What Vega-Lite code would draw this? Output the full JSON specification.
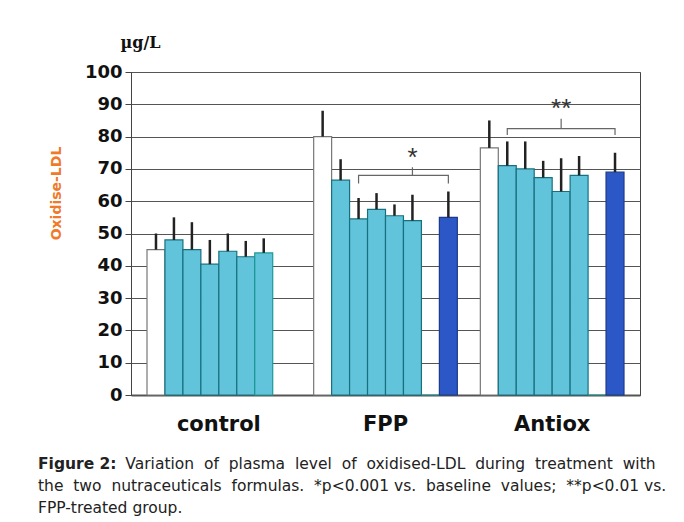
{
  "$schema": "https://vega.github.io/schema/vega-lite/v6.json",
  "width": 509,
  "height": 323,
  "autosize": {"type": "none"},
  "padding": {"left": 131, "top": 72, "right": 44, "bottom": 127},
  "background": "white",
  "config": {
    "view": {"stroke": "#444", "strokeWidth": 1},
    "font": "DejaVu Sans"
  },
  "datasets": {
    "bars": [
      {"group": "control", "series": "s0", "value": 45, "top": 50},
      {"group": "control", "series": "s1", "value": 48, "top": 55},
      {"group": "control", "series": "s2", "value": 45, "top": 53.5},
      {"group": "control", "series": "s3", "value": 40.5, "top": 48},
      {"group": "control", "series": "s4", "value": 44.5, "top": 50},
      {"group": "control", "series": "s5", "value": 42.8, "top": 47.7},
      {"group": "control", "series": "s6", "value": 44, "top": 48.5},
      {"group": "FPP", "series": "s0", "value": 80, "top": 88},
      {"group": "FPP", "series": "s1", "value": 66.5, "top": 73},
      {"group": "FPP", "series": "s2", "value": 54.5, "top": 61},
      {"group": "FPP", "series": "s3", "value": 57.5, "top": 62.5},
      {"group": "FPP", "series": "s4", "value": 55.5, "top": 59},
      {"group": "FPP", "series": "s5", "value": 54, "top": 62},
      {"group": "FPP", "series": "s6", "value": 0, "top": 0},
      {"group": "FPP", "series": "s7", "value": 55, "top": 63},
      {"group": "Antiox", "series": "s0", "value": 76.5, "top": 85},
      {"group": "Antiox", "series": "s1", "value": 71, "top": 78.5},
      {"group": "Antiox", "series": "s2", "value": 70, "top": 78.5},
      {"group": "Antiox", "series": "s3", "value": 67.3, "top": 72.5},
      {"group": "Antiox", "series": "s4", "value": 63, "top": 73.3},
      {"group": "Antiox", "series": "s5", "value": 68, "top": 74},
      {"group": "Antiox", "series": "s6", "value": 0, "top": 0},
      {"group": "Antiox", "series": "s7", "value": 69, "top": 75}
    ],
    "braces": [
      {"brace": "b1", "group": "FPP", "series": "s2", "y": 65.5, "order": 1},
      {"brace": "b1", "group": "FPP", "series": "s2", "y": 68, "order": 2},
      {"brace": "b1", "group": "FPP", "series": "s5", "y": 68, "order": 3},
      {"brace": "b1", "group": "FPP", "series": "s5", "y": 70.5, "order": 4},
      {"brace": "b1", "group": "FPP", "series": "s5", "y": 68, "order": 5},
      {"brace": "b1", "group": "FPP", "series": "s7", "y": 68, "order": 6},
      {"brace": "b1", "group": "FPP", "series": "s7", "y": 65.5, "order": 7},
      {"brace": "b2", "group": "Antiox", "series": "s1", "y": 80.5, "order": 1},
      {"brace": "b2", "group": "Antiox", "series": "s1", "y": 82.5, "order": 2},
      {"brace": "b2", "group": "Antiox", "series": "s4", "y": 82.5, "order": 3},
      {"brace": "b2", "group": "Antiox", "series": "s4", "y": 85.5, "order": 4},
      {"brace": "b2", "group": "Antiox", "series": "s4", "y": 82.5, "order": 5},
      {"brace": "b2", "group": "Antiox", "series": "s7", "y": 82.5, "order": 6},
      {"brace": "b2", "group": "Antiox", "series": "s7", "y": 80.5, "order": 7}
    ],
    "stars": [
      {"group": "FPP", "series": "s5", "y": 73.5, "label": "*"},
      {"group": "Antiox", "series": "s4", "y": 88.5, "label": "**"}
    ]
  },
  "title": {
    "text": "Figure 2:",
    "subtitle": [
      "\u200b\u2003\u2003\u2003\u2003\u2003\u00a0\u00a0Variation \u00a0of \u00a0plasma \u00a0level \u00a0of \u00a0oxidised-LDL \u00a0during \u00a0treatment \u00a0with",
      "the \u00a0two \u00a0nutraceuticals \u00a0formulas. \u00a0*p<0.001 vs. \u00a0baseline \u00a0values; \u00a0**p<0.01 vs.",
      "FPP-treated group."
    ],
    "orient": "bottom",
    "anchor": "start",
    "frame": "group",
    "dx": -93,
    "offset": 23,
    "font": "DejaVu Sans",
    "fontSize": 15.5,
    "fontWeight": "bold",
    "color": "#222",
    "subtitleFont": "DejaVu Sans",
    "subtitleFontSize": 15.5,
    "subtitleColor": "#222",
    "subtitleLineHeight": 22,
    "subtitlePadding": -16
  },
  "encoding": {
    "x": {
      "field": "group",
      "type": "nominal",
      "sort": ["control", "FPP", "Antiox"],
      "scale": {"domain": ["control", "FPP", "Antiox"], "paddingInner": 0.138, "paddingOuter": 0.096},
      "axis": {
        "title": null,
        "labelAngle": 0,
        "labelFont": "DejaVu Sans",
        "labelFontSize": 21,
        "labelFontWeight": "bold",
        "labelColor": "#111",
        "labelPadding": 18,
        "ticks": false,
        "domainColor": "#555",
        "domainWidth": 2
      }
    },
    "xOffset": {
      "field": "series",
      "type": "nominal",
      "scale": {"domain": ["s0", "s1", "s2", "s3", "s4", "s5", "s6", "s7"], "paddingInner": 0, "paddingOuter": 0}
    }
  },
  "layer": [
    {
      "data": {"name": "bars"},
      "mark": {"type": "bar", "strokeWidth": 1.2},
      "encoding": {
        "y": {
          "field": "value",
          "type": "quantitative",
          "scale": {"domain": [0, 100]},
          "axis": {
            "values": [0, 10, 20, 30, 40, 50, 60, 70, 80, 90, 100],
            "title": "µg/L",
            "titleAngle": 0,
            "titleAlign": "left",
            "titleBaseline": "middle",
            "titleX": -11,
            "titleY": -30,
            "titleFont": "DejaVu Serif",
            "titleFontSize": 16,
            "titleFontWeight": "bold",
            "titleColor": "#111",
            "labelFont": "DejaVu Sans",
            "labelFontSize": 18,
            "labelFontWeight": "bold",
            "labelColor": "#111",
            "labelPadding": 3,
            "tickSize": 6,
            "tickColor": "#444",
            "domainColor": "#444",
            "gridColor": "#555",
            "gridOpacity": 1,
            "gridWidth": 1
          }
        },
        "color": {
          "field": "series",
          "type": "nominal",
          "scale": {
            "domain": ["s0", "s1", "s2", "s3", "s4", "s5", "s6", "s7"],
            "range": ["#ffffff", "#62c4db", "#62c4db", "#62c4db", "#62c4db", "#62c4db", "#62c4db", "#2b58c6"]
          },
          "legend": null
        },
        "stroke": {
          "field": "series",
          "type": "nominal",
          "scale": {
            "domain": ["s0", "s1", "s2", "s3", "s4", "s5", "s6", "s7"],
            "range": ["#777777", "#17707f", "#17707f", "#17707f", "#17707f", "#17707f", "#1a9a96", "#1d3a8a"]
          },
          "legend": null
        }
      }
    },
    {
      "data": {"name": "bars"},
      "transform": [{"filter": "datum.top > 0"}],
      "mark": {"type": "rule", "color": "#222", "strokeWidth": 2.5},
      "encoding": {
        "y": {
          "field": "value",
          "type": "quantitative",
          "axis": {
            "title": "Oxidise-LDL",
            "orient": "left",
            "labels": false,
            "ticks": false,
            "domain": false,
            "grid": false,
            "titleColor": "#f07a2a",
            "titleFont": "DejaVu Sans",
            "titleFontSize": 14,
            "titleFontWeight": "bold",
            "titleX": -68,
            "titleY": 121,
            "titleAlign": "center"
          }
        },
        "y2": {"field": "top"}
      }
    },
    {
      "data": {"name": "braces"},
      "mark": {"type": "line", "color": "#666", "strokeWidth": 1.2},
      "encoding": {
        "y": {"field": "y", "type": "quantitative", "axis": null},
        "detail": {"field": "brace"},
        "order": {"field": "order", "type": "quantitative"}
      }
    },
    {
      "data": {"name": "stars"},
      "mark": {"type": "text", "font": "Liberation Sans", "fontSize": 26, "color": "#333", "baseline": "middle"},
      "encoding": {
        "y": {"field": "y", "type": "quantitative", "axis": null},
        "text": {"field": "label"}
      }
    }
  ],
  "resolve": {"axis": {"y": "independent"}}
}
